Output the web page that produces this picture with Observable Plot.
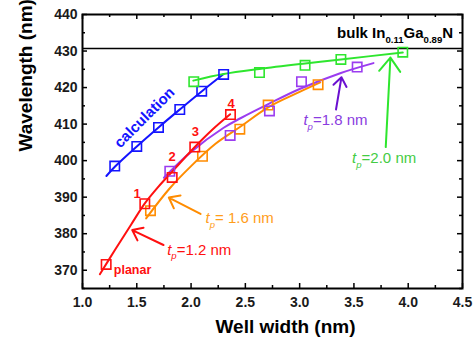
<!DOCTYPE html>
<html>
<head>
<meta charset="utf-8">
<script src="https://cdn.jsdelivr.net/npm/d3@7"></script>
<script src="https://cdn.jsdelivr.net/npm/@observablehq/plot@0.6"></script>
<style>
  html, body { margin: 0; padding: 0; background: #fff; }
  svg { display: block; }
</style>
</head>
<body>
<div id="chart"></div>
<script>
// ---- data ----
const xTickValues = [1.0, 1.5, 2.0, 2.5, 3.0, 3.5, 4.0, 4.5];
const xMinorTicks = [1.25, 1.75, 2.25, 2.75, 3.25, 3.75, 4.25];
const yTickValues = [370, 380, 390, 400, 410, 420, 430, 440];
const yMinorTicks = [365, 375, 385, 395, 405, 415, 425, 435];

const xLabel = "Well width (nm)";
const yLabel = "Wavelength (nm)";

const bulkLevel = 430.7;
const bulkText = "bulk In_{0.11}Ga_{0.89}N";

// calculation (blue)
const calcW  = [1.297, 1.50, 1.70, 1.896, 2.098, 2.30];
const calcWL = [398.5, 403.9, 409.1, 414.0, 419.0, 423.6];
const calcLineW  = [1.22, 1.30, 1.50, 1.70, 1.90, 2.10, 2.30];
const calcLineWL = [395.8, 398.4, 403.9, 409.1, 414.1, 419.0, 423.7];

// tp = 1.2 nm (red)
const redW  = [1.218, 1.574, 1.826, 2.034, 2.363];
const redWL = [371.6, 388.2, 395.4, 403.7, 412.6];
const redLineW  = [1.16, 1.30, 1.45, 1.574, 1.70, 1.826, 2.03, 2.20, 2.36];
const redLineWL = [368.9, 375.6, 382.6, 388.3, 392.9, 397.0, 403.6, 408.6, 412.7];
const redNums = ["1", "2", "3", "4"];
const redNumW  = [1.504, 1.826, 2.040, 2.369];
const redNumWL = [390.8, 401.0, 407.8, 415.6];

// tp = 1.6 nm (orange)
const orgW  = [1.626, 2.105, 2.449, 2.71, 3.17];
const orgWL = [386.3, 401.2, 408.6, 415.2, 420.8];
const orgLineW  = [1.586, 1.80, 2.00, 2.225, 2.45, 2.71, 3.00, 3.19];
const orgLineWL = [384.2, 392.3, 398.5, 404.6, 409.2, 414.6, 418.8, 421.4];

// tp = 1.8 nm (purple)
const purW  = [1.804, 2.36, 2.722, 3.017, 3.53];
const purWL = [397.1, 406.9, 413.6, 421.6, 425.6];
const purLineW  = [1.75, 2.00, 2.30, 2.455, 2.72, 3.00, 3.38, 3.68];
const purLineWL = [395.3, 402.4, 409.0, 411.6, 415.6, 419.6, 424.0, 426.7];

// tp = 2.0 nm (green)
const grnW  = [2.025, 2.63, 3.05, 3.38, 3.95];
const grnWL = [421.6, 424.1, 426.1, 427.7, 429.7];
const grnLineW  = [2.02, 2.30, 2.63, 3.05, 3.38, 3.95];
const grnLineWL = [421.9, 423.7, 425.1, 426.6, 427.7, 429.6];

// annotations
const tpLabels = ["$t$_$p$=1.2 nm", "$t$_$p$= 1.6 nm", "$t$_$p$=1.8 nm", "$t$_$p$=2.0 nm"];
const tpLabelW  = [1.780, 2.133, 3.035, 3.483];
const tpLabelWL = [375.5, 384.2, 411.0, 400.6];
const arrowW1  = [1.746, 2.087, 3.335, 3.793];
const arrowWL1 = [376.9, 385.4, 414.0, 403.7];
const arrowW2  = [1.458, 1.795, 3.385, 3.836];
const arrowWL2 = [381.0, 389.9, 422.8, 428.2];

const calcLabel = "calculation";
const planarLabel = "planar";

// colours
const cBlue = "#1414ff", cRed = "#ff1010", cOrange = "#ff8c00", cOrangeText = "#ff9d1a";
const cPurple = "#9b3cf0", cPurpleArrow = "#6a10d0", cPurpleText = "#8a3ce0";
const cGreen = "#2ee62e", cGreenText = "#44cc44";

const pts = (xs, ys) => xs.map((x, i) => ({x, y: ys[i]}));

const sq = (xs, ys, color) => Plot.dot(pts(xs, ys), {x: "x", y: "y", symbol: "square", r: 5.3, stroke: color, strokeWidth: 1.6, fill: "none"});
const ln = (xs, ys, color) => Plot.line(pts(xs, ys), {x: "x", y: "y", stroke: color, strokeWidth: 2, curve: "catmull-rom"});

const arrows = arrowW1.map((x1, i) => ({x1, y1: arrowWL1[i], x2: arrowW2[i], y2: arrowWL2[i], c: [cRed, cOrange, cPurpleArrow, cGreen][i]}));
const tpData = tpLabels.map((t, i) => ({t, x: tpLabelW[i], y: tpLabelWL[i], c: [cRed, cOrangeText, cPurpleText, cGreenText][i]}));

const chart = Plot.plot({
  width: 475,
  height: 340,
  marginLeft: 82,
  marginRight: 13,
  marginTop: 14,
  marginBottom: 52,
  x: {domain: [1.0, 4.5]},
  y: {domain: [365, 440]},
  style: {fontFamily: "'Liberation Sans', Arial, sans-serif", background: "white", color: "black"},
  marks: [
    // tick labels
    Plot.axisX(xTickValues, {tickSize: 0, tickPadding: 9, tickFormat: d => d.toFixed(1), fontSize: 14, fontWeight: "bold", fill: "#1a1a1a", label: null}),
    Plot.axisY(yTickValues, {tickSize: 0, tickPadding: 5, tickFormat: d => String(d), fontSize: 14, fontWeight: "bold", fill: "#1a1a1a", label: null}),
    // inward ticks
    Plot.tickX(xTickValues, {x: d => d, insetTop: 269, stroke: "black", strokeWidth: 1.5}),
    Plot.tickX(xTickValues, {x: d => d, insetBottom: 269, stroke: "black", strokeWidth: 1.5}),
    Plot.tickX(xMinorTicks, {x: d => d, insetTop: 271, stroke: "black", strokeWidth: 1.5}),
    Plot.tickX(xMinorTicks, {x: d => d, insetBottom: 271, stroke: "black", strokeWidth: 1.5}),
    Plot.tickY(yTickValues, {y: d => d, insetRight: 375, stroke: "black", strokeWidth: 1.5}),
    Plot.tickY(yTickValues, {y: d => d, insetLeft: 375, stroke: "black", strokeWidth: 1.5}),
    Plot.tickY(yMinorTicks, {y: d => d, insetRight: 377, stroke: "black", strokeWidth: 1.5}),
    Plot.tickY(yMinorTicks, {y: d => d, insetLeft: 377, stroke: "black", strokeWidth: 1.5}),
    // bulk level
    Plot.ruleY([bulkLevel], {stroke: "black", strokeWidth: 1.5}),
    // lines
    ln(calcLineW, calcLineWL, cBlue),
    ln(grnLineW, grnLineWL, cGreen),
    ln(orgLineW, orgLineWL, cOrange),
    ln(purLineW, purLineWL, cPurple),
    ln(redLineW, redLineWL, cRed),
    // squares
    sq(calcW, calcWL, cBlue),
    sq(grnW, grnWL, cGreen),
    sq(orgW, orgWL, cOrange),
    sq(purW, purWL, cPurple),
    sq(redW, redWL, cRed),
    // arrows
    Plot.arrow(arrows, {x1: "x1", y1: "y1", x2: "x2", y2: "y2", stroke: "c", strokeWidth: 2, headLength: 13, headAngle: 75}),
    // annotation texts
    Plot.text(tpData, {x: "x", y: "y", text: "t", fill: "c", fontSize: 15, textAnchor: "start"}),
    Plot.text(redNums, {x: (d, i) => redNumW[i], y: (d, i) => redNumWL[i], text: d => d, fill: cRed, fontSize: 13, fontWeight: "bold"}),
    Plot.text([planarLabel], {x: 1.288, y: 370.2, text: d => d, fill: cRed, fontSize: 12.5, fontWeight: "bold", textAnchor: "start"}),
    Plot.text([calcLabel], {x: 1.571, y: 411.8, text: d => d, fill: cBlue, fontSize: 15, fontWeight: "bold", rotate: -45}),
    Plot.text([bulkText], {x: 3.345, y: 434.75, text: d => d, fill: "black", fontSize: 15, fontWeight: "bold", textAnchor: "start"}),
    // axis titles
    Plot.text([xLabel], {frameAnchor: "bottom", dy: 44, dx: 13, lineAnchor: "bottom", text: d => d, fontSize: 19, fontWeight: "bold", fill: "black"}),
    Plot.text([yLabel], {frameAnchor: "left", dx: -57, rotate: -90, text: d => d, fontSize: 19, fontWeight: "bold", fill: "black"}),
    Plot.frame({stroke: "black", strokeWidth: 2})
  ]
});

document.getElementById("chart").appendChild(chart);

// rich text: $..$ italic, _{..} subscript, _$..$ italic subscript
const NS = "http://www.w3.org/2000/svg";
chart.querySelectorAll("text").forEach(el => {
  const s = el.textContent;
  if (!/[_$]/.test(s)) return;
  const fs = parseFloat(getComputedStyle(el).fontSize) || 15;
  const re = /\$([^$]+)\$|_\{([^}]+)\}|_\$([^$]+)\$|([^$_]+)/g;
  el.textContent = "";
  let m, shifted = false;
  while ((m = re.exec(s))) {
    const t = document.createElementNS(NS, "tspan");
    if (m[1]) {
      t.textContent = m[1];
      t.setAttribute("font-style", "italic");
      if (shifted) { t.setAttribute("dy", -fs * 0.3); shifted = false; }
    } else if (m[2] || m[3]) {
      t.textContent = m[2] || m[3];
      t.setAttribute("font-size", fs * 0.64);
      t.setAttribute("dy", fs * 0.3);
      if (m[3]) t.setAttribute("font-style", "italic");
      shifted = true;
    } else {
      t.textContent = m[4];
      if (shifted) { t.setAttribute("dy", -fs * 0.3); shifted = false; }
    }
    el.appendChild(t);
  }
});
</script>
</body>
</html>
